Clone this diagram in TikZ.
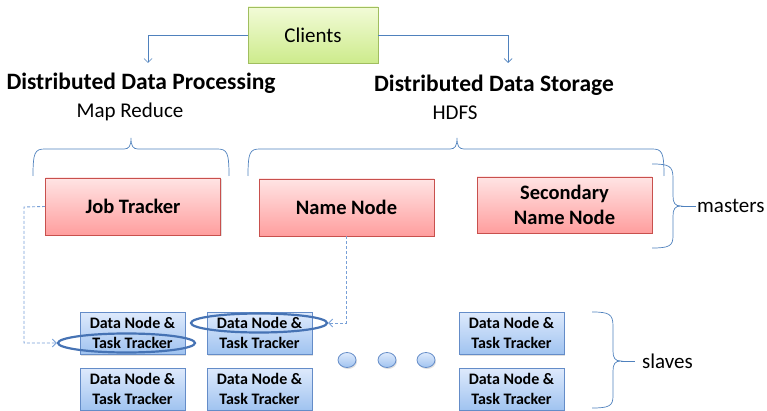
\documentclass[tikz,border=0pt]{standalone}
\usepackage{fontspec}
\setmainfont{Carlito}
\usetikzlibrary{arrows.meta,shapes.geometric,shadows}
\definecolor{lineblue}{RGB}{79,129,189}
\definecolor{dashblue}{RGB}{120,160,215}
\definecolor{gtop}{RGB}{242,251,215}
\definecolor{gbot}{RGB}{205,235,140}
\definecolor{gbord}{RGB}{160,190,95}
\definecolor{rtop}{RGB}{255,228,228}
\definecolor{rbot}{RGB}{255,158,158}
\definecolor{rbord}{RGB}{200,80,77}
\definecolor{btop}{RGB}{222,234,252}
\definecolor{bbot}{RGB}{160,195,240}
\definecolor{bbord}{RGB}{100,140,200}
\definecolor{ellblue}{RGB}{70,115,180}
\tikzset{
  boxshadow/.style={drop shadow={opacity=0.25,shadow xshift=1pt,shadow yshift=-1.5pt}},
  clientbox/.style={draw=gbord,line width=0.8pt,top color=gtop,bottom color=gbot,
    minimum width=130pt,minimum height=56pt,inner sep=0pt,boxshadow,
    font=\fontsize{21}{24}\selectfont},
  masterbox/.style={draw=rbord,line width=0.8pt,top color=rtop,bottom color=rbot,
    minimum width=175pt,minimum height=57pt,inner sep=0pt,boxshadow,align=center,
    font=\bfseries\fontsize{20.5}{25}\selectfont},
  slavebox/.style={draw=bbord,line width=0.8pt,top color=btop,bottom color=bbot,
    minimum width=105pt,minimum height=42pt,inner sep=0pt,boxshadow,align=center,
    font=\bfseries\fontsize{16}{19.5}\selectfont},
  heading/.style={font=\bfseries\fontsize{23.5}{26}\selectfont,inner sep=0pt},
  subhead/.style={font=\fontsize{21}{24}\selectfont,inner sep=0pt},
  label/.style={font=\fontsize{21}{24}\selectfont,inner sep=0pt},
  conn/.style={draw=lineblue,line width=0.7pt},
  arr/.style={conn,-{Straight Barb[length=4pt,width=8pt]}},
  dashconn/.style={draw=dashblue,line width=0.9pt,dash pattern=on 3pt off 2pt,
    -{Straight Barb[length=4pt,width=8pt]}},
  ring/.style={ellipse,draw=ellblue,line width=2.2pt,inner sep=0pt},
  dot/.style={ellipse,draw=bbord,line width=0.8pt,top color=btop,bottom color=bbot,
    minimum width=18pt,minimum height=15pt,inner sep=0pt,boxshadow},
  brace/.style={draw=lineblue,line width=0.7pt},
}
\begin{document}
\begin{tikzpicture}[x=1pt,y=-1pt]
\useasboundingbox (0,0) rectangle (767,411);
% top
\node[clientbox] (cl) at (313,35) {Clients};
\node[heading] (ddp) at (141,83) {Distributed Data Processing};
\node[subhead] (mr) at (130,112) {Map Reduce};
\node[heading] (dds) at (494,85) {Distributed Data Storage};
\node[subhead] (hdfs) at (455,113) {HDFS};
\coordinate (la) at (148,63);
\coordinate (ra) at (508,63);
\draw[arr] (cl.west) -| (la);
\draw[arr] (cl.east) -| (ra);
% braces over groups
\draw[brace] (33,176) .. controls (33,152) and (35,149) .. (45,149) -- (124,149)
  .. controls (129,149) and (131,146) .. (131,138)
  .. controls (131,146) and (133,149) .. (138,149) -- (217,149)
  .. controls (227,149) and (229,152) .. (229,176);
\draw[brace] (248,176) .. controls (248,152) and (250,149) .. (260,149) -- (450,149)
  .. controls (455,149) and (457,146) .. (457,138)
  .. controls (457,146) and (459,149) .. (464,149) -- (652,149)
  .. controls (662,149) and (664,152) .. (664,176);
% masters
\node[masterbox] (jt) at (133,206.5) {Job Tracker};
\node[masterbox] (nn) at (346.5,207.5) {Name Node};
\node[masterbox,minimum height=56pt] (snn) at (564.5,205) {Secondary\\Name Node};
\node[label,anchor=west] (ms) at (697,206) {masters};
\draw[brace] (652,164) .. controls (669,164) and (673,166) .. (673,178) -- (673,196)
  .. controls (673,203) and (675,206) .. (681,206)
  .. controls (675,206) and (673,209) .. (673,216) -- (673,236)
  .. controls (673,246) and (669,248) .. (652,248);
\draw[brace,shorten >=1pt] (681,206) -- (ms.west);
% slaves
\node[slavebox] (d1) at (132.5,333) {Data Node \&\\Task Tracker};
\node[slavebox] (d2) at (259.5,333) {Data Node \&\\Task Tracker};
\node[slavebox] (d3) at (511.5,333) {Data Node \&\\Task Tracker};
\node[slavebox] (d4) at (132.5,389) {Data Node \&\\Task Tracker};
\node[slavebox] (d5) at (259.5,389) {Data Node \&\\Task Tracker};
\node[slavebox] (d6) at (511.5,389) {Data Node \&\\Task Tracker};
\node[dot] (o1) at (347,360) {};
\node[dot] (o2) at (387,360) {};
\node[dot] (o3) at (426,360) {};
\node[label,anchor=west] (sl) at (642,361) {slaves};
\draw[brace] (592,312) .. controls (609,312) and (613,314) .. (613,326) -- (613,351)
  .. controls (613,358) and (615,361) .. (621,361)
  .. controls (615,361) and (613,364) .. (613,371) -- (613,396)
  .. controls (613,406) and (609,408) .. (592,408);
\draw[brace,shorten >=7pt] (621,361) -- (sl.west);
% highlight rings
\node[ring,minimum width=137pt,minimum height=19pt] (e1) at (126.5,343) {};
\node[ring,minimum width=136pt,minimum height=19pt] (e2) at (259,323) {};
% dashed links
\coordinate (jl) at (24,207);
\draw[dashconn] (jt.west) -- (jl) |- (e1.west);
\draw[dashconn] (nn.south) |- (e2.east);
\end{tikzpicture}
\end{document}
